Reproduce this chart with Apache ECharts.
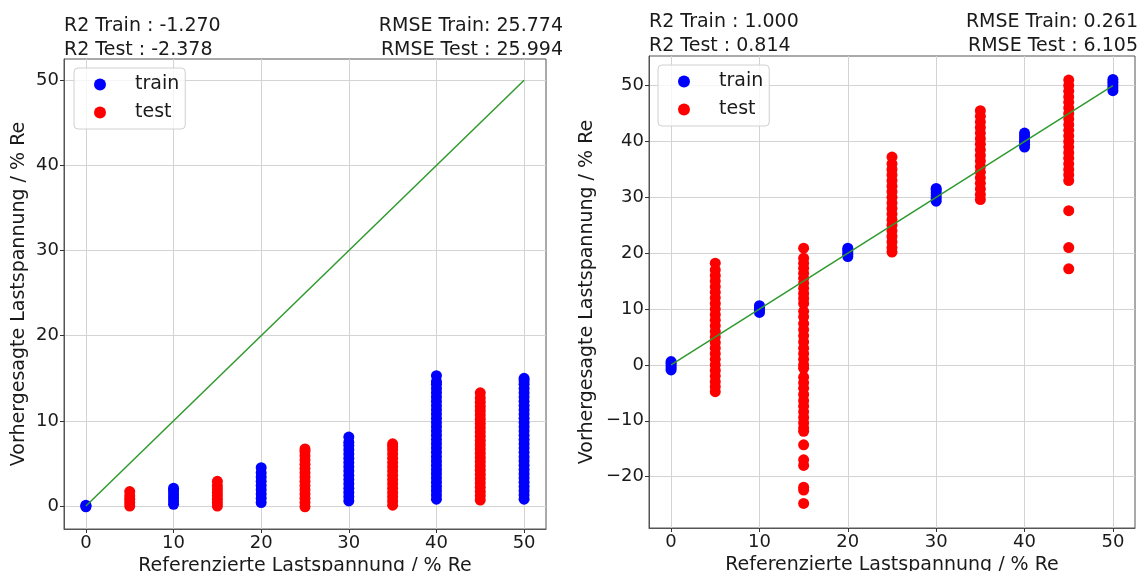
<!DOCTYPE html>
<html>
<head>
<meta charset="utf-8">
<script src="https://cdn.jsdelivr.net/npm/echarts@6.0.0/dist/echarts.min.js"></script>
<style>
html, body { margin: 0; padding: 0; background: #fff; }
#container { width: 1143px; height: 571px; }
</style>
</head>
<body>
<div id="container"></div>
<script>
// tick positions
var xTicks = [0, 10, 20, 30, 40, 50];
var leftYTicks = [0, 10, 20, 30, 40, 50];
var rightYTicks = [-20, -10, 0, 10, 20, 30, 40, 50];

// metrics shown above each panel
var leftMetricsL = ['R2 Train : -1.270', 'R2 Test : -2.378'];
var leftMetricsR = ['RMSE Train: 25.774', 'RMSE Test : 25.994'];
var rightMetricsL = ['R2 Train : 1.000', 'R2 Test : 0.814'];
var rightMetricsR = ['RMSE Train: 0.261', 'RMSE Test : 6.105'];

// left panel: predicted values per reference load
var leftTrainX = [0, 10, 20, 30, 40, 50];
var leftTrainY = [
  [-0.1, 0.0, 0.1],
  [0.2, 0.6, 1.0, 1.4, 1.8, 2.1],
  [0.4, 0.9, 1.4, 1.9, 2.4, 2.9, 3.4, 3.9, 4.5],
  [0.6, 1.1, 1.6, 2.1, 2.6, 3.1, 3.6, 4.1, 4.6, 5.1, 5.6, 6.1, 6.6, 7.1, 7.5, 8.1],
  [0.8, 1.3, 1.8, 2.3, 2.8, 3.3, 3.8, 4.3, 4.8, 5.3, 5.8, 6.3, 6.8, 7.3, 7.8, 8.3, 8.8, 9.3, 9.8, 10.3, 10.8, 11.3, 11.8, 12.3, 12.8, 13.3, 13.8, 14.3, 14.6, 15.3],
  [0.8, 1.3, 1.8, 2.3, 2.8, 3.3, 3.8, 4.3, 4.8, 5.3, 5.8, 6.3, 6.8, 7.3, 7.8, 8.3, 8.8, 9.3, 9.8, 10.3, 10.8, 11.3, 11.8, 12.3, 12.8, 13.3, 13.8, 14.3, 14.7, 15.0]
];
var leftTestX = [5, 15, 25, 35, 45];
var leftTestY = [
  [0.0, 0.4, 0.8, 1.2, 1.7],
  [0.0, 0.4, 0.8, 1.2, 1.6, 2.0, 2.4, 2.9],
  [-0.1, 0.4, 0.9, 1.4, 1.9, 2.4, 2.9, 3.4, 3.9, 4.4, 4.9, 5.4, 5.9, 6.4, 6.7],
  [0.1, 0.6, 1.1, 1.6, 2.1, 2.6, 3.1, 3.6, 4.1, 4.6, 5.1, 5.6, 6.1, 6.6, 7.0, 7.3],
  [0.7, 1.2, 1.7, 2.2, 2.7, 3.2, 3.7, 4.2, 4.7, 5.2, 5.7, 6.2, 6.7, 7.2, 7.7, 8.2, 8.7, 9.2, 9.7, 10.2, 10.7, 11.2, 11.7, 12.2, 12.7, 13.3]
];

// right panel
var rightTrainX = [0, 10, 20, 30, 40, 50];
var rightTrainY = [
  [-0.9, -0.5, -0.1, 0.3, 0.6],
  [9.4, 9.8, 10.2, 10.6],
  [19.4, 19.8, 20.2, 20.6, 20.9],
  [29.3, 29.8, 30.3, 30.8, 31.3, 31.6],
  [39.0, 39.5, 40.0, 40.5, 41.0, 41.5],
  [49.1, 49.6, 50.1, 50.6, 51.1]
];
var rightTestX = [5, 15, 25, 35, 45];
var rightTestY = [
  [-4.8, -3.9, -3.0, -2.0, -1.0, 0.0, 1.0, 2.0, 3.0, 4.0, 5.0, 6.0, 7.0, 8.0, 9.0, 10.0, 11.0, 12.0, 13.0, 14.0, 15.0, 16.0, 17.0, 18.2],
  [-24.8, -22.4, -21.9, -18.0, -17.0, -14.3, -11.9, -11.3, -10.4, -9.4, -8.4, -7.4, -6.4, -5.3, -4.2, -3.2, -2.2, -0.6, 0.0, 1.0, 2.0, 3.0, 4.1, 5.2, 6.3, 7.4, 8.6, 9.6, 11.0, 11.9, 12.8, 13.7, 14.6, 15.5, 16.4, 17.3, 18.2, 19.1, 20.9],
  [20.2, 21.0, 22.0, 23.0, 24.0, 25.0, 26.0, 27.0, 28.0, 29.0, 30.0, 31.0, 32.0, 33.0, 34.0, 35.0, 36.0, 37.2],
  [29.6, 30.5, 31.5, 32.5, 33.5, 34.5, 35.5, 36.5, 37.5, 38.5, 39.5, 40.5, 41.5, 42.5, 43.5, 44.5, 45.5],
  [17.2, 21.0, 27.6, 33.0, 34.0, 35.0, 36.0, 37.0, 38.0, 39.0, 40.0, 41.0, 42.0, 43.0, 44.0, 45.0, 46.0, 47.0, 48.0, 49.0, 50.0, 51.0]
];

// ideal line
var idealX = [0, 50];
var idealY = [0, 50];

function columns(xs, ys) {
  var out = [];
  for (var i = 0; i < xs.length; i++) {
    for (var j = 0; j < ys[i].length; j++) out.push([xs[i], ys[i][j]]);
  }
  return out;
}
function pairs(xs, ys) {
  return xs.map(function (x, i) { return [x, ys[i]]; });
}

var FONT = 'DejaVu Sans';
var TXT = '#1a1a1a';
var minus = function (v) { return String(v).replace('-', '\u2212'); };

function axis(gi, min, max, split, ticks, name, gap) {
  return {
    type: 'value', gridIndex: gi, min: min, max: max, splitNumber: split,
    name: name, nameLocation: 'middle', nameGap: gap,
    nameTextStyle: { fontSize: 19, color: TXT, fontFamily: FONT },
    axisLine: { show: true, onZero: false, lineStyle: { color: '#555', width: 1 } },
    axisTick: { show: true, length: 4, customValues: ticks, lineStyle: { color: '#333' } },
    axisLabel: { fontSize: 18, color: TXT, fontFamily: FONT, margin: 5, customValues: ticks, formatter: minus },
    splitLine: { show: true, lineStyle: { color: '#d3d3d3', width: 1 } }
  };
}

function legend(left, top) {
  return {
    left: left, top: top, orient: 'vertical', data: ['train', 'test'],
    icon: 'circle', itemWidth: 12, itemHeight: 12, itemGap: 9,
    padding: [7, 6, 7, 20],
    backgroundColor: 'rgba(255,255,255,0.8)', borderColor: '#d0d0d0', borderWidth: 1, borderRadius: 4,
    textStyle: { fontSize: 19, color: TXT, fontFamily: FONT, padding: [0, 0, 0, 24] }
  };
}

function metric(lines, x, y, align) {
  return {
    text: lines.join('\n'), left: x, top: y, padding: 0, textAlign: align,
    textStyle: { fontSize: 19, fontWeight: 'normal', color: TXT, fontFamily: FONT, lineHeight: 24 }
  };
}

var dom = document.getElementById('container');
var myChart = echarts.init(dom);
var yName = 'Vorhergesagte Lastspannung / % Re';
var xName = 'Referenzierte Lastspannung / % Re';

var option = {
  animation: false,
  backgroundColor: '#fff',
  title: [
    metric(leftMetricsL, 64, 14, 'left'),
    metric(leftMetricsR, 563, 14, 'right'),
    metric(rightMetricsL, 649, 10, 'left'),
    metric(rightMetricsR, 1138, 10, 'right')
  ],
  legend: [legend(74, 68), legend(658, 65)],
  grid: [
    { left: 64, top: 59, width: 482, height: 470, show: true, borderColor: '#555', borderWidth: 1,
      containLabel: false, outerBoundsMode: 'none' },
    { left: 649, top: 56, width: 486, height: 472, show: true, borderColor: '#555', borderWidth: 1,
      containLabel: false, outerBoundsMode: 'none' }
  ],
  xAxis: [
    axis(0, -2.5, 52.5, 5, xTicks, xName, 23),
    axis(1, -2.5, 52.5, 5, xTicks, xName, 23)
  ],
  yAxis: [
    axis(0, -2.7, 52.5, 5, leftYTicks, yName, 35),
    axis(1, -29.2, 55.3, 8, rightYTicks, yName, 52)
  ],
  series: [
    { name: 'train', type: 'scatter', xAxisIndex: 0, yAxisIndex: 0, symbolSize: 11,
      itemStyle: { color: '#0000ff', opacity: 1 }, data: columns(leftTrainX, leftTrainY) },
    { name: 'test', type: 'scatter', xAxisIndex: 0, yAxisIndex: 0, symbolSize: 11,
      itemStyle: { color: '#ff0000', opacity: 1 }, data: columns(leftTestX, leftTestY) },
    { name: 'ideal', type: 'line', xAxisIndex: 0, yAxisIndex: 0, symbol: 'none', z: 5,
      lineStyle: { color: '#2e9a2e', width: 1.5 }, data: pairs(idealX, idealY) },
    { name: 'train', type: 'scatter', xAxisIndex: 1, yAxisIndex: 1, symbolSize: 11,
      itemStyle: { color: '#0000ff', opacity: 1 }, data: columns(rightTrainX, rightTrainY) },
    { name: 'test', type: 'scatter', xAxisIndex: 1, yAxisIndex: 1, symbolSize: 11,
      itemStyle: { color: '#ff0000', opacity: 1 }, data: columns(rightTestX, rightTestY) },
    { name: 'ideal', type: 'line', xAxisIndex: 1, yAxisIndex: 1, symbol: 'none', z: 5,
      lineStyle: { color: '#2e9a2e', width: 1.5 }, data: pairs(idealX, idealY) }
  ]
};

if (option && typeof option === 'object') {
  myChart.setOption(option, true);
}
</script>
</body>
</html>
